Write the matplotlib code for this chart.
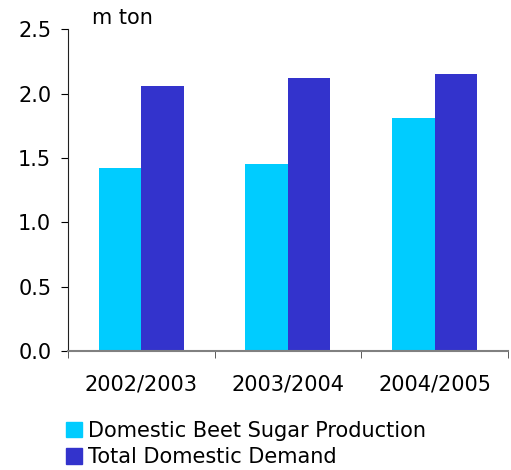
import numpy as np
import matplotlib.pyplot as plt
from matplotlib.patches import Patch

plt.rcParams['font.family'] = ['DejaVu Sans']

seasons = ['2002/2003', '2003/2004', '2004/2005']
beet_production = [1.42, 1.45, 1.81]
total_demand = [2.06, 2.12, 2.15]
y_ticks = [0.0, 0.5, 1.0, 1.5, 2.0, 2.5]

light = '#00CCFF'
dark = '#3333CC'
fs = 15

fig = plt.figure(figsize=(5.11, 4.70), dpi=100)
ax = fig.add_axes([0.133, 0.253, 0.861, 0.685])

x = np.arange(len(seasons))
w = 0.29
ax.bar(x - w / 2, beet_production, w, color=light, linewidth=0)
ax.bar(x + w / 2, total_demand, w, color=dark, linewidth=0)

ax.set_xlim(-0.5, len(seasons) - 0.5)
ax.set_ylim(0, 2.5)
ax.set_yticks(y_ticks)
ax.set_yticklabels([f'{v:.1f}' for v in y_ticks], fontsize=fs)

# category labels centred, tick marks on the boundaries
ax.set_xticks(x)
ax.set_xticklabels(seasons, fontsize=fs)
ax.tick_params(axis='x', length=0, pad=17)
ax.set_xticks(np.arange(-0.5, len(seasons)), minor=True)
ax.tick_params(axis='x', which='minor', length=5, direction='out', color='#404040')
ax.tick_params(axis='y', length=5, direction='out', pad=7)

for side in ['top', 'right']:
    ax.spines[side].set_visible(False)
ax.spines['left'].set_color('#202020')
ax.spines['bottom'].set_color('#808080')
ax.spines['bottom'].set_linewidth(1.5)

fig.text(0.18, 0.962, 'm ton', fontsize=fs, va='center')

handles = [Patch(color=light, label='Domestic Beet Sugar Production'),
           Patch(color=dark, label='Total Domestic Demand')]
fig.legend(handles=handles, loc='lower left', bbox_to_anchor=(0.113, -0.012),
           frameon=False, fontsize=fs, handlelength=0.75, handleheight=0.75,
           handletextpad=0.3, labelspacing=0.3, borderaxespad=0)

plt.savefig('out.png', dpi=100)
